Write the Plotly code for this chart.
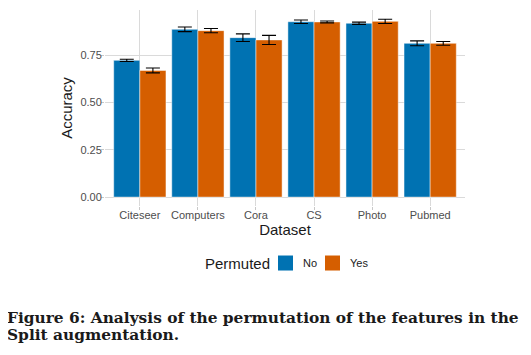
import plotly.graph_objects as go

datasets = ["Citeseer", "Computers", "Cora", "CS", "Photo", "Pubmed"]
acc_no = [0.722, 0.886, 0.842, 0.926, 0.918, 0.812]
err_no = [0.006, 0.012, 0.020, 0.009, 0.006, 0.013]
acc_yes = [0.669, 0.879, 0.830, 0.925, 0.928, 0.812]
err_yes = [0.013, 0.011, 0.024, 0.005, 0.011, 0.010]
y_ticks = [0.0, 0.25, 0.5, 0.75]
y_tick_labels = ["0.00", "0.25", "0.50", "0.75"]
legend_title = "Permuted"
groups = ["No", "Yes"]

C_NO = "#0072B2"
C_YES = "#D55E00"
colors = [C_NO, C_YES]

fig = go.Figure()
for name, vals, errs, col in zip(groups, [acc_no, acc_yes], [err_no, err_yes], colors):
    fig.add_trace(go.Bar(
        x=datasets, y=vals, name=name,
        marker=dict(color=col, line=dict(color="rgba(255,255,255,0.6)", width=0.8)),
        error_y=dict(type="data", array=errs, color="black", thickness=1.1, width=7),
    ))

# page has an 8px body margin; figure is 523x347 so plot sits at page x 105-465, y 10-205.6
fig.update_layout(
    width=523, height=347,
    margin=dict(l=97, r=66, t=2, b=149.4, autoexpand=False),
    plot_bgcolor="white", paper_bgcolor="white",
    barmode="group", bargap=0.1, bargroupgap=0,
    font=dict(family="Liberation Sans, Arial, sans-serif", size=11, color="#4D4D4D"),
    showlegend=False,
)
fig.update_xaxes(
    range=[-0.6, 5.6], showgrid=True, gridcolor="#DADADA", gridwidth=1,
    ticks="outside", ticklen=3, tickcolor="#C8C8C8", showline=False, zeroline=False,
    tickfont=dict(size=11, color="#4D4D4D"), ticklabelstandoff=-4, automargin=False,
    title=dict(text="Dataset", font=dict(size=15, color="#1A1A1A"), standoff=1),
)
fig.update_yaxes(
    range=[-0.047, 0.988], tickvals=y_ticks, ticktext=y_tick_labels,
    showgrid=True, gridcolor="#DADADA", gridwidth=1, zeroline=False, showline=False,
    ticks="outside", ticklen=3, tickcolor="#C8C8C8", automargin=False,
    tickfont=dict(size=11, color="#4D4D4D"), ticklabelstandoff=-3,
    title=dict(text="Accuracy", font=dict(size=15, color="#1A1A1A"), standoff=4),
)

# legend (drawn below the panel)
leg_y = -0.292
fig.add_annotation(text=legend_title, xref="paper", yref="paper", x=0.272, y=leg_y,
                   xanchor="left", yanchor="middle", showarrow=False,
                   font=dict(size=15, color="#1A1A1A"))
key_x = [(0.4806, 0.5222), (0.6111, 0.6528)]
lab_x = [0.5450, 0.6756]
for (x0, x1), lx, name, col in zip(key_x, lab_x, groups, colors):
    fig.add_shape(type="rect", xref="paper", yref="paper", x0=x0, x1=x1,
                  y0=-0.3292, y1=-0.2526, fillcolor=col, line=dict(width=0))
    fig.add_annotation(text=name, xref="paper", yref="paper", x=lx, y=leg_y,
                       xanchor="left", yanchor="middle", showarrow=False,
                       font=dict(size=11, color="#1A1A1A"))

cap_font = dict(family="DejaVu Serif, serif", size=15.4, color="#1A1A1A")
fig.add_annotation(text="<b>Figure 6: Analysis of the permutation of the features in the</b>",
                   xref="paper", yref="paper", x=-0.2775, y=-0.5695, xanchor="left", yanchor="middle",
                   showarrow=False, font=cap_font)
fig.add_annotation(text="<b>Split augmentation.</b>",
                   xref="paper", yref="paper", x=-0.2775, y=-0.659, xanchor="left", yanchor="middle",
                   showarrow=False, font=cap_font)

fig.write_html("out.html")
